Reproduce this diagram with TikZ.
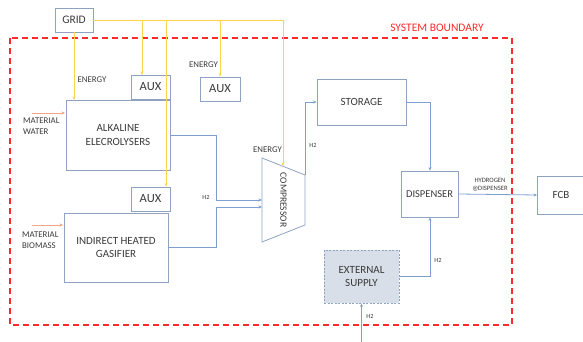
\documentclass[tikz,border=0pt]{standalone}
\usepackage{fontspec}
\setmainfont{Carlito}
\usetikzlibrary{arrows.meta}
\definecolor{boxc}{HTML}{8EA3C2}
\definecolor{linec}{HTML}{7F9FD0}
\definecolor{yel}{HTML}{FFD34D}
\definecolor{org}{HTML}{F4A582}
\definecolor{redb}{HTML}{FF2A2A}
\definecolor{txt}{HTML}{3A3A3A}
\definecolor{extfill}{HTML}{D9DFE8}
\begin{document}
\begin{tikzpicture}[x=1pt,y=-1pt,
  box/.style={draw=boxc, line width=0.8pt, text=txt, inner sep=0pt, align=center, font=\fontsize{11}{13.5}\selectfont},
  lbl/.style={text=txt, inner sep=0pt, align=left, font=\fontsize{8.8}{10.5}\selectfont},
  tiny/.style={text=txt, inner sep=0pt, align=left, font=\fontsize{6.3}{8}\selectfont},
  blueline/.style={draw=linec, line width=0.8pt},
  yline/.style={draw=yel, line width=0.9pt},
  tip/.style={-{Stealth[length=3.5pt,width=3pt]}}
]
\useasboundingbox (0,0) rectangle (583,342);
% system boundary
\draw[redb, line width=1.6pt, dash pattern=on 6pt off 4pt] (10,38) rectangle (512,325);
\node[text=redb, inner sep=0pt, font=\fontsize{11.5}{13}\selectfont] (sb) at (437,28) {SYSTEM BOUNDARY};
% boxes
\node[box, minimum width=38pt, minimum height=24pt, font=\fontsize{11.5}{13.5}\selectfont] (grid) at (74,20) {GRID};
\node[box, minimum width=39pt, minimum height=24pt, font=\fontsize{12.5}{14}\selectfont] (aux1) at (150.5,87) {AUX};
\node[box, minimum width=40pt, minimum height=24pt, font=\fontsize{12.5}{14}\selectfont] (aux3) at (220,89) {AUX};
\node[box, minimum width=104pt, minimum height=70pt] (elec) at (118,135) {ALKALINE\\ELECROLYSERS};
\node[box, minimum width=39pt, minimum height=24pt, font=\fontsize{12.5}{14}\selectfont] (aux2) at (150.5,199) {AUX};
\node[box, minimum width=104pt, minimum height=69pt] (gas) at (116,247.5) {INDIRECT HEATED\\GASIFIER};
\node[box, minimum width=89pt, minimum height=46pt] (stor) at (361.5,102) {STORAGE};
\node[box, minimum width=57pt, minimum height=46pt, font=\fontsize{10.5}{13}\selectfont] (disp) at (429.5,194) {DISPENSER};
\node[box, minimum width=50pt, minimum height=38pt, anchor=west] (fcb) at (537,195) {};
\node[text=txt, inner sep=0pt, font=\fontsize{11}{13}\selectfont] (fcbt) at (561,195) {FCB};
\node[box, dashed, dash pattern=on 2pt off 1.5pt, fill=extfill, minimum width=75pt, minimum height=53pt] (ext) at (361.5,276.5) {EXTERNAL\\SUPPLY};
% compressor
\coordinate (c1) at (262,158);
\coordinate (c2) at (305,175);
\coordinate (c3) at (305,225);
\coordinate (c4) at (262,242);
\draw[boxc, line width=0.8pt] (c1) -- (c2) -- (c3) -- (c4) -- cycle;
\node[text=txt, inner sep=0pt, rotate=-90, font=\fontsize{9.6}{11}\selectfont] (comp) at (283.5,200) {COMPRESSOR};
\coordinate (cin1) at (262,200);
\coordinate (cin2) at (262,207);
\coordinate (ctop) at (283,166);
% grid energy lines
\coordinate (g1) at (142,20);
\coordinate (g2) at (166,20);
\coordinate (g3) at (220,20);
\coordinate (g4) at (283,20);
\draw[yline] (grid.east) -- (g4);
\draw[yline, tip] (grid.south) -- (74,100);
\draw[yline, tip] (g1) -- (142,75);
\draw[yline, tip] (g2) -- (aux2.north -| g2);
\draw[yline, tip] (g3) -- (aux3.north);
\draw[yline, tip] (g4) -- (ctop);
% energy labels
\node[lbl, anchor=west] (e1) at (77.5,80) {ENERGY};
\node[lbl, anchor=west] (e2) at (189,64.5) {ENERGY};
\node[lbl, anchor=west] (e3) at (253,150) {ENERGY};
% material inputs
\draw[org, line width=0.8pt, tip] (32,113) -- (65,113);
\node[lbl, anchor=north west] (mw) at (23,118) {MATERIAL\\WATER};
\draw[org, line width=0.8pt, tip] (32,225) -- (63,225);
\node[lbl, anchor=north west] (mb) at (22,232) {MATERIAL\\BIOMASS};
% hydrogen flows
\draw[blueline, tip] (elec.east) -- (216,135) -- (216,200) -- (cin1);
\draw[blueline, tip] (gas.east) -- (216,247.5) -- (216,207) -- (cin2);
\node[tiny] (h2a) at (206,197) {H2};
\draw[blueline, tip] (c2) -- (305,102) -- (stor.west);
\node[tiny] (h2b) at (313,145) {H2};
\draw[blueline, tip] (stor.east) -- (430,102) -- (disp.north -| 430,0);
\draw[blueline, tip] (disp.east) -- (fcb.west);
\node[text=txt, inner sep=0pt, align=center, font=\fontsize{6.6}{8}\selectfont] (hyd) at (490,185) {HYDROGEN\\@DISPENSER};
\draw[blueline, tip] (ext.east) -- (430,276.5) -- (disp.south -| 430,0);
\node[tiny] (h2c) at (438,260) {H2};
\coordinate (extin) at (361.5,342);
\draw[blueline, tip] (extin) -- (ext.south);
\node[tiny] (h2d) at (370,316) {H2};
\end{tikzpicture}
\end{document}
